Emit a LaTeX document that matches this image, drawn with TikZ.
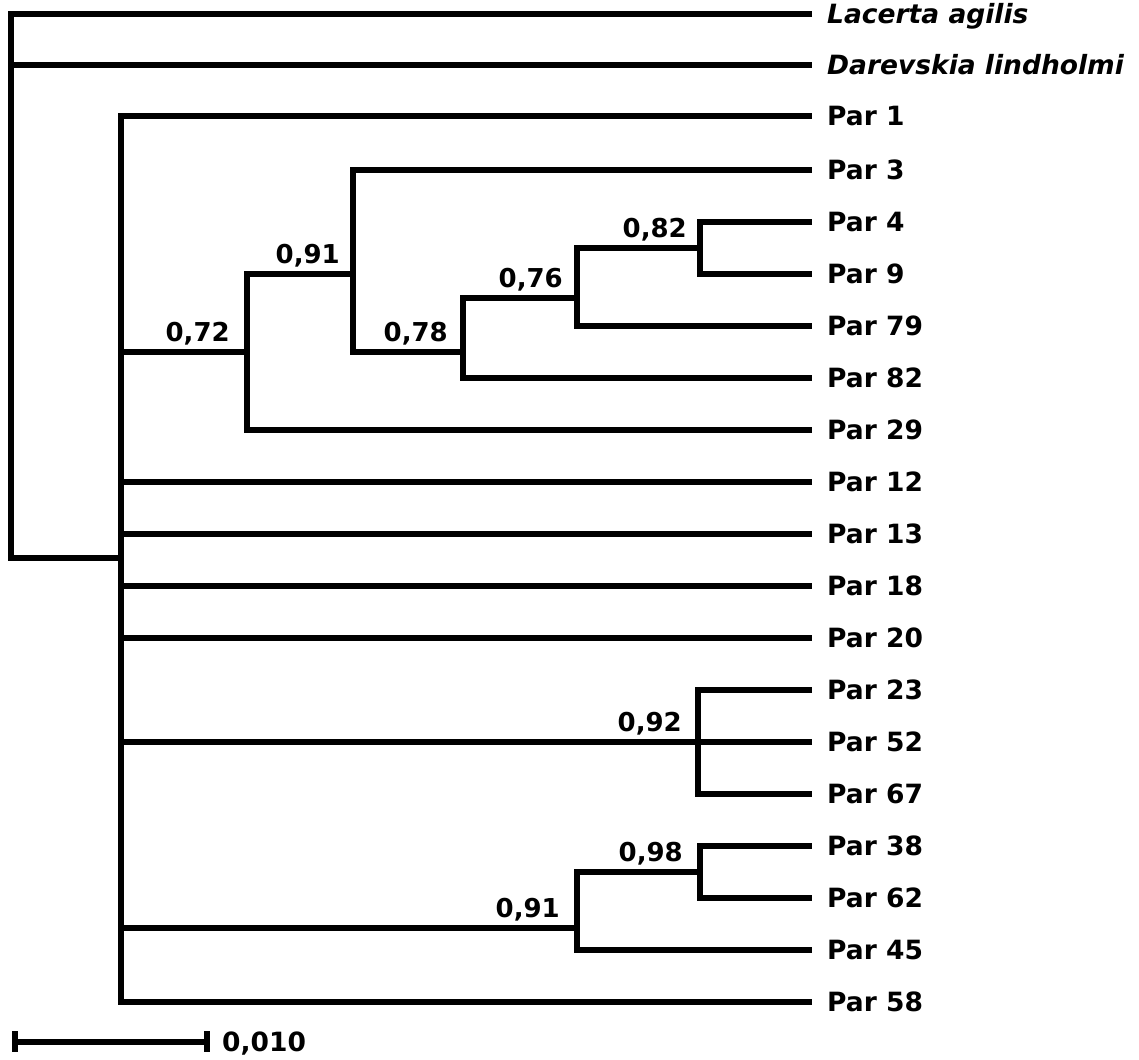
\documentclass[tikz,border=0pt]{standalone}
\usepackage{fontspec}
\setmainfont{DejaVu Sans}
\begin{document}
\begin{tikzpicture}[x=1pt,y=-1pt,
  br/.style={line width=6pt,line join=miter,line cap=butt},
  leaf/.style={anchor=base west,inner sep=0pt,font=\fontsize{26.5}{31}\selectfont\bfseries},
  sp/.style={leaf,font=\fontsize{26.5}{31}\selectfont\bfseries\itshape},
  supp/.style={anchor=base east,inner sep=0pt,font=\fontsize{26}{31}\selectfont\bfseries}]
\useasboundingbox (0,0) rectangle (1139,1059);
% internal nodes
\coordinate (R) at (11,558);
\coordinate (I) at (121,558);
\coordinate (A72) at (247,352);
\coordinate (A91) at (353,274);
\coordinate (A78) at (463,352);
\coordinate (A76) at (577,298);
\coordinate (A82) at (700,248);
\coordinate (B92) at (698,742);
\coordinate (B91) at (577,928);
\coordinate (B98) at (700,872);
% leaf tips
\foreach \n/\y in {lac/14,dar/65,p1/116,p3/170,p4/222,p9/274,p79/326,p82/378,p29/430,p12/482,p13/534,p18/586,p20/638,p23/690,p52/742,p67/794,p38/846,p62/898,p45/950,p58/1002}
  \coordinate (\n) at (812,\y);
% leaf labels
\node[sp] (Llac) at ([xshift=15pt,yshift=-9.5pt]lac) {Lacerta agilis};
\node[sp] (Ldar) at ([xshift=15pt,yshift=-9.5pt]dar) {Darevskia lindholmi};
\foreach \n/\t in {p1/1,p3/3,p4/4,p9/9,p79/79,p82/82,p29/29,p12/12,p13/13,p18/18,p20/20,p23/23,p52/52,p67/67,p38/38,p62/62,p45/45,p58/58}
  \node[leaf] (L\n) at ([xshift=15pt,yshift=-9.5pt]\n) {Par \t};
% branches
\draw[br] (lac) -| (R) -- (I);
\draw[br] (R) |- (dar);
\foreach \c in {p1,A72,p12,p13,p18,p20,B92,B91,p58}
  \draw[br] (I) |- (\c);
\draw[br] (A72) |- (A91);
\draw[br] (A72) |- (p29);
\draw[br] (A91) |- (p3);
\draw[br] (A91) |- (A78);
\draw[br] (A78) |- (A76);
\draw[br] (A78) |- (p82);
\draw[br] (A76) |- (A82);
\draw[br] (A76) |- (p79);
\draw[br] (A82) |- (p4);
\draw[br] (A82) |- (p9);
\draw[br] (B92) |- (p23);
\draw[br] (B92) |- (p52);
\draw[br] (B92) |- (p67);
\draw[br] (B91) |- (B98);
\draw[br] (B91) |- (p45);
\draw[br] (B98) |- (p38);
\draw[br] (B98) |- (p62);
% support values
\node[supp] (s72) at ([xshift=-17pt,yshift=11pt]A72) {0,72};
\node[supp] (s91) at ([xshift=-13pt,yshift=11pt]A91) {0,91};
\node[supp] (s78) at ([xshift=-15pt,yshift=11pt]A78) {0,78};
\node[supp] (s76) at ([xshift=-14pt,yshift=11pt]A76) {0,76};
\node[supp] (s82) at ([xshift=-13pt,yshift=11pt]A82) {0,82};
\node[supp] (s92) at ([xshift=-16pt,yshift=11pt]B92) {0,92};
\node[supp] (s91b) at ([xshift=-17pt,yshift=11pt]B91) {0,91};
\node[supp] (s98) at ([xshift=-17pt,yshift=11pt]B98) {0,98};
% scale bar
\coordinate (sa) at (15,1042);
\coordinate (sb) at (207,1042);
\draw[br] (sa) -- (sb);
\draw[br] ([yshift=11pt]sa) -- ([yshift=-10pt]sa);
\draw[br] ([yshift=11pt]sb) -- ([yshift=-10pt]sb);
\node[leaf] (scl) at ([xshift=15pt,yshift=-9.5pt]sb) {0,010};
\end{tikzpicture}
\end{document}
